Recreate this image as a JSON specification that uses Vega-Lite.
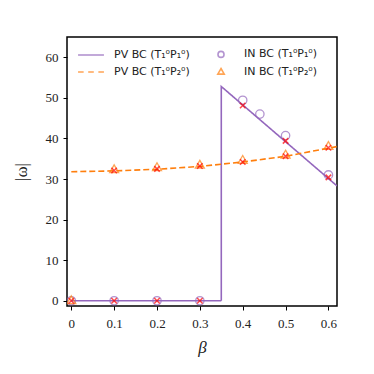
{
  "$schema": "https://vega.github.io/schema/vega-lite/v6.json",
  "width": 270,
  "height": 269,
  "autosize": "none",
  "padding": {"left": 67, "top": 37, "right": 37, "bottom": 68},
  "background": "white",
  "config": {
    "view": {"stroke": "black", "strokeWidth": 1.5},
    "axis": {
      "grid": false,
      "domain": false,
      "tickColor": "black",
      "tickSize": 4,
      "tickWidth": 1,
      "labelFont": "Liberation Serif",
      "labelFontSize": 13,
      "labelColor": "#222",
      "titleFont": "Liberation Serif",
      "titleFontWeight": "normal",
      "titleFontSize": 17,
      "titleColor": "#222"
    }
  },
  "resolve": {"legend": {"color": "independent", "shape": "independent"}},
  "datasets": {
    "lines": [
      {"series": "PV BC (T₁⁰P₁⁰)", "i": 0, "beta": 0, "w": 0},
      {"series": "PV BC (T₁⁰P₁⁰)", "i": 1, "beta": 0.35, "w": 0},
      {"series": "PV BC (T₁⁰P₁⁰)", "i": 2, "beta": 0.35, "w": 52.8},
      {"series": "PV BC (T₁⁰P₁⁰)", "i": 3, "beta": 0.62, "w": 28.3},
      {"series": "PV BC (T₁⁰P₂⁰)", "i": 0, "beta": 0, "w": 31.8},
      {"series": "PV BC (T₁⁰P₂⁰)", "i": 1, "beta": 0.1, "w": 32.0},
      {"series": "PV BC (T₁⁰P₂⁰)", "i": 2, "beta": 0.2, "w": 32.4},
      {"series": "PV BC (T₁⁰P₂⁰)", "i": 3, "beta": 0.3, "w": 33.1},
      {"series": "PV BC (T₁⁰P₂⁰)", "i": 4, "beta": 0.4, "w": 34.2},
      {"series": "PV BC (T₁⁰P₂⁰)", "i": 5, "beta": 0.5, "w": 35.6},
      {"series": "PV BC (T₁⁰P₂⁰)", "i": 6, "beta": 0.6, "w": 37.6},
      {"series": "PV BC (T₁⁰P₂⁰)", "i": 7, "beta": 0.62, "w": 38.0}
    ],
    "points": [
      {"series": "IN BC (T₁⁰P₁⁰)", "beta": 0, "w": 0},
      {"series": "IN BC (T₁⁰P₁⁰)", "beta": 0.1, "w": 0},
      {"series": "IN BC (T₁⁰P₁⁰)", "beta": 0.2, "w": 0},
      {"series": "IN BC (T₁⁰P₁⁰)", "beta": 0.3, "w": 0},
      {"series": "IN BC (T₁⁰P₁⁰)", "beta": 0.4, "w": 49.4},
      {"series": "IN BC (T₁⁰P₁⁰)", "beta": 0.44, "w": 46.0},
      {"series": "IN BC (T₁⁰P₁⁰)", "beta": 0.5, "w": 40.7},
      {"series": "IN BC (T₁⁰P₁⁰)", "beta": 0.6, "w": 31.0},
      {"series": "IN BC (T₁⁰P₂⁰)", "beta": 0, "w": 0},
      {"series": "IN BC (T₁⁰P₂⁰)", "beta": 0.1, "w": 32.3},
      {"series": "IN BC (T₁⁰P₂⁰)", "beta": 0.2, "w": 32.8},
      {"series": "IN BC (T₁⁰P₂⁰)", "beta": 0.3, "w": 33.4},
      {"series": "IN BC (T₁⁰P₂⁰)", "beta": 0.4, "w": 34.6},
      {"series": "IN BC (T₁⁰P₂⁰)", "beta": 0.5, "w": 35.9},
      {"series": "IN BC (T₁⁰P₂⁰)", "beta": 0.6, "w": 38.0}
    ],
    "crosses": [
      {"beta": 0, "w": 0},
      {"beta": 0.1, "w": 0},
      {"beta": 0.2, "w": 0},
      {"beta": 0.3, "w": 0},
      {"beta": 0.4, "w": 48.1},
      {"beta": 0.5, "w": 39.4},
      {"beta": 0.6, "w": 30.4},
      {"beta": 0.1, "w": 32.1},
      {"beta": 0.2, "w": 32.5},
      {"beta": 0.3, "w": 33.2},
      {"beta": 0.4, "w": 34.2},
      {"beta": 0.5, "w": 35.6},
      {"beta": 0.6, "w": 37.7}
    ]
  },
  "encoding": {
    "x": {
      "field": "beta", "type": "quantitative",
      "scale": {"domain": [-0.01, 0.62], "nice": false, "zero": false},
      "axis": {"values": [0, 0.1, 0.2, 0.3, 0.4, 0.5, 0.6], "format": "~g", "title": "β", "titleFontStyle": "italic", "labelPadding": 7, "titlePadding": 9}
    },
    "y": {
      "field": "w", "type": "quantitative",
      "scale": {"domain": [-1.3, 65], "nice": false, "zero": false},
      "axis": {"values": [0, 10, 20, 30, 40, 50, 60], "title": "|ω|", "labelPadding": 5, "titlePadding": 15}
    }
  },
  "layer": [
    {
      "data": {"name": "lines"},
      "mark": {"type": "line", "clip": true, "strokeWidth": 1.6},
      "encoding": {
        "order": {"field": "i", "type": "quantitative"},
        "color": {
          "field": "series", "type": "nominal", "legend": null,
          "scale": {
            "domain": ["PV BC (T₁⁰P₁⁰)", "PV BC (T₁⁰P₂⁰)", "IN BC (T₁⁰P₁⁰)", "IN BC (T₁⁰P₂⁰)"],
            "range": ["#9467bd", "#ff7f0e", "#9467bd", "#ff7f0e"]
          }
        },
        "strokeDash": {
          "field": "series", "type": "nominal", "legend": null,
          "scale": {"domain": ["PV BC (T₁⁰P₁⁰)", "PV BC (T₁⁰P₂⁰)"], "range": [[1, 0], [6, 3]]}
        }
      }
    },
    {
      "data": {"name": "points"},
      "mark": {"type": "point", "filled": false, "strokeWidth": 1.3, "size": 380, "clip": true},
      "encoding": {
        "color": {
          "field": "series", "type": "nominal",
          "scale": {
            "domain": ["PV BC (T₁⁰P₁⁰)", "PV BC (T₁⁰P₂⁰)", "IN BC (T₁⁰P₁⁰)", "IN BC (T₁⁰P₂⁰)"],
            "range": ["#9467bd", "#ff7f0e", "#9467bd", "#ff7f0e"]
          },
          "legend": {
            "title": null,
            "orient": "none",
            "legendX": 16,
            "legendY": 9,
            "columns": 2,
            "columnPadding": 23,
            "rowPadding": 3,
            "padding": 0,
            "symbolSize": 196,
            "symbolStrokeWidth": 1.6,
            "symbolFillColor": "transparent",
            "labelOffset": 15,
            "labelFont": "DejaVu Sans",
            "labelFontSize": 11,
            "labelColor": "#222",
            "labelLimit": 200
          }
        },
        "shape": {
          "field": "series", "type": "nominal",
          "scale": {
            "domain": ["PV BC (T₁⁰P₁⁰)", "PV BC (T₁⁰P₂⁰)", "IN BC (T₁⁰P₁⁰)", "IN BC (T₁⁰P₂⁰)"],
            "range": [
              "M-1.85,0H1.85",
              "M-1.85,0H-1.05M-0.4,0H0.4M1.05,0H1.85",
              "M-0.43,0A0.43,0.43 0 1,1 0.43,0A0.43,0.43 0 1,1 -0.43,0Z",
              "M0,-0.5L0.46,0.3L-0.46,0.3Z"
            ]
          }
        }
      }
    },
    {
      "data": {"name": "crosses"},
      "mark": {"type": "point", "filled": false, "shape": "M-1,-1L1,1M-1,1L1,-1", "size": 30, "color": "red", "strokeWidth": 1.5, "clip": true},
      "encoding": {}
    }
  ]
}
